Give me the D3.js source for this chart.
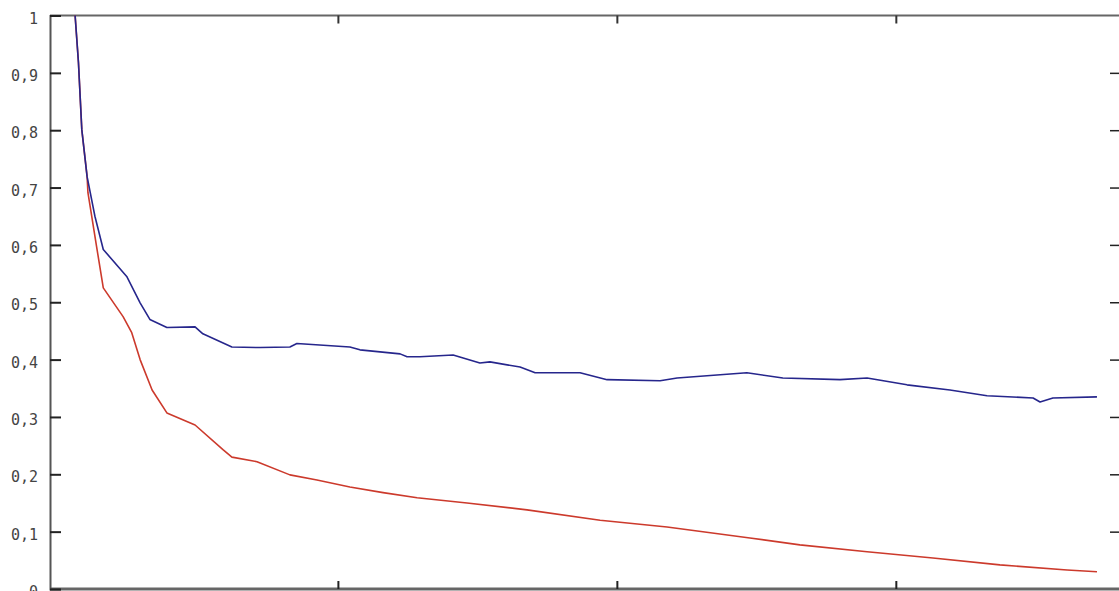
<!DOCTYPE html>
<html lang="en">
    <head>
        <meta charset="utf-8">
        <title>Convergence curves</title>
        <script type="text/javascript" src="https://cdn.jsdelivr.net/npm/d3@7"></script>
        <style>
            body { margin: 0; background: #fff; }
            .tick text { font-family: "DejaVu Sans Mono", monospace; font-size: 15px; fill: #444; }
        </style>
    </head>
    <body>
        <div class="chart"></div>
        <script type="text/javascript">
            // data (x = iterations, y = value)
            var blueX = [58, 70, 82, 101, 129, 159, 243, 291, 326, 387, 488, 516, 620, 721, 828, 853, 1043, 1079, 1223, 1248, 1294, 1413, 1509, 1545, 1653, 1707, 1868, 1965, 2155, 2216, 2466, 2595, 2800, 2897, 3040, 3194, 3327, 3492, 3517, 3563, 3721];
            var blueY = [1.0, 0.918, 0.801, 0.719, 0.650, 0.592, 0.545, 0.499, 0.470, 0.456, 0.457, 0.445, 0.422, 0.421, 0.422, 0.428, 0.422, 0.417, 0.410, 0.405, 0.405, 0.408, 0.394, 0.396, 0.387, 0.377, 0.377, 0.365, 0.363, 0.368, 0.377, 0.368, 0.365, 0.368, 0.356, 0.347, 0.337, 0.333, 0.326, 0.333, 0.335];
            var redX = [58, 70, 82, 101, 104, 135, 159, 230, 261, 291, 334, 387, 488, 588, 620, 710, 828, 925, 1043, 1162, 1284, 1463, 1678, 1940, 2180, 2477, 2656, 2897, 3133, 3373, 3614, 3721];
            var redY = [1.0, 0.918, 0.801, 0.719, 0.691, 0.597, 0.525, 0.475, 0.447, 0.400, 0.347, 0.307, 0.286, 0.243, 0.230, 0.222, 0.199, 0.190, 0.178, 0.168, 0.159, 0.150, 0.138, 0.120, 0.108, 0.089, 0.077, 0.065, 0.054, 0.042, 0.033, 0.030];
            var yTicks = [0, 0.1, 0.2, 0.3, 0.4, 0.5, 0.6, 0.7, 0.8, 0.9, 1];
            var xTicks = [1000, 2000, 3000];

            var w = 1119, h = 591;
            var mLeft = 50, mRight = 1120, mTop = 15.5, mBottom = 589;

            var svg = d3.select("body div.chart")
                        .append("svg")
                        .attr("width", w)
                        .attr("height", h);

            var xScale = d3.scaleLinear().domain([-32, 3800]).range([mLeft, mRight - 1]);
            var yScale = d3.scaleLinear().domain([0, 1]).range([mBottom, mTop]);

            // 逗号作小数点
            var locale = d3.formatLocale({decimal: ",", thousands: ".", grouping: [3], currency: ["", ""]});
            var fmt = locale.format(".1~f");

            // frame
            svg.append("line").attr("x1", mLeft).attr("x2", w).attr("y1", mTop).attr("y2", mTop)
               .attr("stroke", "#666").attr("stroke-width", 2);
            svg.append("line").attr("x1", mLeft).attr("x2", w).attr("y1", mBottom).attr("y2", mBottom)
               .attr("stroke", "#666").attr("stroke-width", 3);

            // left axis, ticks inward
            var yAxis = d3.axisLeft(yScale).tickValues(yTicks).tickSize(-11).tickPadding(12).tickFormat(fmt);
            var gy = svg.append("g").attr("class", "y axis")
                        .attr("transform", "translate(" + mLeft + ",0)")
                        .call(yAxis);
            gy.select(".domain").attr("stroke", "#555").attr("stroke-width", 2);
            gy.selectAll(".tick line").attr("stroke", "#222").attr("stroke-width", 2);
            gy.selectAll(".tick text").attr("dy", "0.5em");

            // right axis ticks only
            var yAxisR = d3.axisRight(yScale).tickValues(yTicks.slice(1, 10)).tickSize(-10).tickFormat("");
            var gr = svg.append("g").attr("transform", "translate(" + mRight + ",0)").call(yAxisR);
            gr.select(".domain").remove();
            gr.selectAll(".tick line").attr("stroke", "#222").attr("stroke-width", 1.5);

            // top and bottom x ticks, no labels
            var xTop = d3.axisTop(xScale).tickValues(xTicks).tickSize(-8).tickFormat("");
            var gt = svg.append("g").attr("transform", "translate(0," + mTop + ")").call(xTop);
            gt.select(".domain").remove();
            gt.selectAll(".tick line").attr("stroke", "#333").attr("stroke-width", 2);
            var xBot = d3.axisBottom(xScale).tickValues(xTicks).tickSize(-8).tickFormat("");
            var gb = svg.append("g").attr("transform", "translate(0," + mBottom + ")").call(xBot);
            gb.select(".domain").remove();
            gb.selectAll(".tick line").attr("stroke", "#222").attr("stroke-width", 2);

            // lines
            var line = d3.line()
                         .x(function(d){ return xScale(d[0]); })
                         .y(function(d){ return yScale(d[1]); });
            var series = [
                {pts: d3.zip(redX, redY), color: "#cc3a2c"},
                {pts: d3.zip(blueX, blueY), color: "#26268c"}
            ];
            svg.selectAll("path.series")
               .data(series)
               .enter()
               .append("path")
               .attr("class", "series")
               .attr("d", function(d){ return line(d.pts); })
               .attr("fill", "none")
               .attr("stroke", function(d){ return d.color; })
               .attr("stroke-width", 1.6)
               .attr("stroke-linejoin", "round");
        </script>
    </body>
</html>
